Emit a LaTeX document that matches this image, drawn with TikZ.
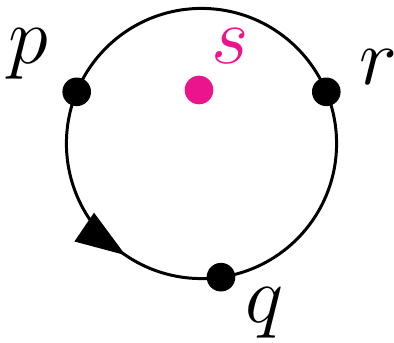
\documentclass[tikz,border=0pt]{standalone}
\usepackage{fix-cm}
\usetikzlibrary{arrows.meta,calc,decorations.markings}
\definecolor{pinkdot}{RGB}{236,20,140}

\begin{document}
\begin{tikzpicture}[x=0.01cm, y=0.01cm, dot/.style={circle, fill=black, inner sep=0pt, minimum size=0.286cm}, lbl/.style={anchor=base, inner sep=0pt, font=\fontsize{23}{27}\selectfont}, loopline/.style={line width=0.85pt, postaction={decorate}, decoration={markings, mark=at position 0.655 with {\arrow{Triangle[length=5mm, width=3.4mm]}}}}]
\useasboundingbox (0,0) rectangle (394,342);
\coordinate (c) at (201.5,198.5);
\draw[loopline] (c) circle [radius=1.35cm];
\node[dot] (p) at ($(c)+(157.5:1.35cm)$) {};
\node[dot] (r) at ($(c)+(22.5:1.35cm)$) {};
\node[dot] (q) at ($(c)+(-81.7:1.35cm)$) {};
\node[dot, fill=pinkdot] (s) at (199,252) {};
\node[lbl] (lp) at (28,278) {$p$};
\node[lbl] (lr) at (378,258) {$r$};
\node[lbl] (lq) at (265,20) {$q$};
\node[lbl, text=pinkdot] (ls) at (230,279) {$s$};
\end{tikzpicture}
\end{document}
